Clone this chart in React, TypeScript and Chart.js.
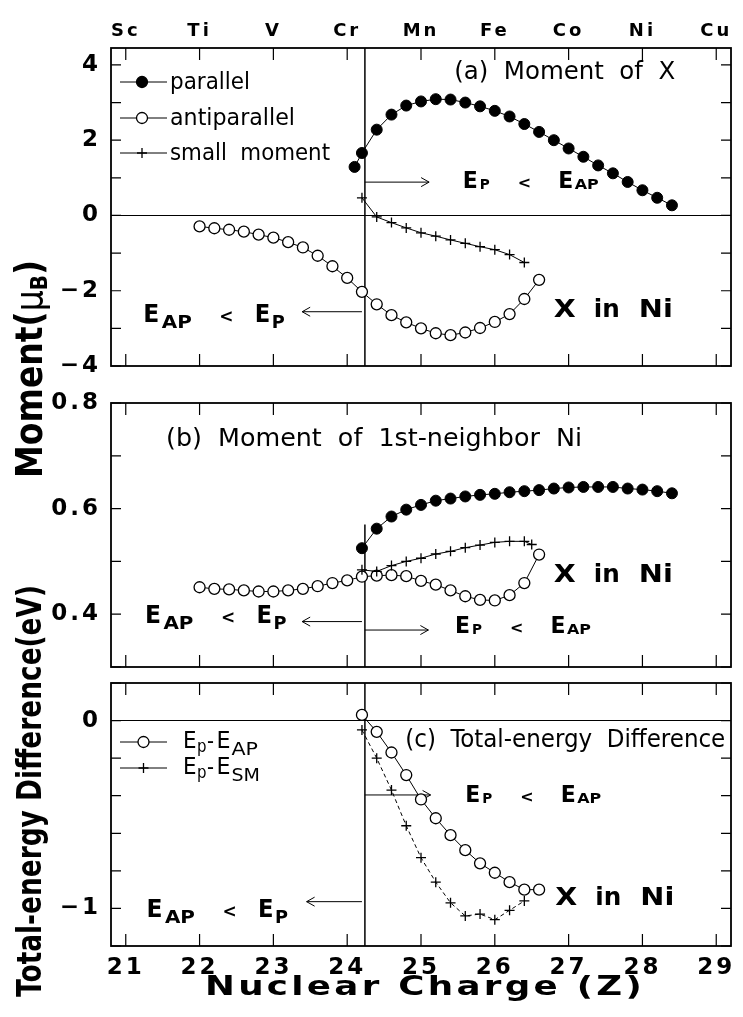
import { useEffect, useRef } from "react";
import { Chart, registerables } from "chart.js";

Chart.register(...registerables);

const PAGE_W = 743;
const PAGE_H = 1017;

// ---------------- data ----------------
const Z_MIN = 20.8;
const Z_MAX = 29.2;
const X_TICKS = [21, 22, 23, 24, 25, 26, 27, 28, 29];
const ELEMENTS = ["Sc", "Ti", "V", "Cr", "Mn", "Fe", "Co", "Ni", "Cu"];
const BOUNDARY_Z = 24.24;

// (a) Moment of X
const Z_A_PARALLEL = [24.1, 24.2, 24.4, 24.6, 24.8, 25.0, 25.2, 25.4, 25.6, 25.8, 26.0, 26.2, 26.4, 26.6, 26.8, 27.0, 27.2, 27.4, 27.6, 27.8, 28.0, 28.2, 28.4];
const A_PARALLEL = [1.29, 1.66, 2.28, 2.68, 2.92, 3.03, 3.09, 3.08, 3.0, 2.9, 2.78, 2.63, 2.43, 2.22, 2.0, 1.78, 1.56, 1.33, 1.12, 0.89, 0.67, 0.47, 0.27];
const Z_ANTIPARALLEL = [22.0, 22.2, 22.4, 22.6, 22.8, 23.0, 23.2, 23.4, 23.6, 23.8, 24.0, 24.2, 24.4, 24.6, 24.8, 25.0, 25.2, 25.4, 25.6, 25.8, 26.0, 26.2, 26.4, 26.6];
const A_ANTIPARALLEL = [-0.29, -0.34, -0.38, -0.43, -0.51, -0.59, -0.71, -0.85, -1.07, -1.35, -1.66, -2.03, -2.36, -2.65, -2.84, -3.0, -3.13, -3.18, -3.11, -2.99, -2.83, -2.62, -2.22, -1.71];
const Z_SMALL = [24.2, 24.4, 24.6, 24.8, 25.0, 25.2, 25.4, 25.6, 25.8, 26.0, 26.2, 26.4];
const A_SMALL = [0.47, -0.04, -0.19, -0.33, -0.46, -0.55, -0.65, -0.74, -0.83, -0.91, -1.04, -1.25];

// (b) Moment of 1st-neighbor Ni
const Z_B_PARALLEL = [24.2, 24.4, 24.6, 24.8, 25.0, 25.2, 25.4, 25.6, 25.8, 26.0, 26.2, 26.4, 26.6, 26.8, 27.0, 27.2, 27.4, 27.6, 27.8, 28.0, 28.2, 28.4];
const B_PARALLEL = [0.525, 0.562, 0.585, 0.598, 0.607, 0.615, 0.619, 0.623, 0.626, 0.628, 0.631, 0.633, 0.635, 0.638, 0.64, 0.641, 0.641, 0.641, 0.638, 0.636, 0.633, 0.629];
const B_ANTIPARALLEL = [0.451, 0.448, 0.447, 0.445, 0.443, 0.443, 0.445, 0.448, 0.453, 0.459, 0.464, 0.471, 0.473, 0.474, 0.472, 0.463, 0.456, 0.445, 0.434, 0.427, 0.426, 0.436, 0.459, 0.513];
const Z_B_SMALL = [24.2, 24.4, 24.6, 24.8, 25.0, 25.2, 25.4, 25.6, 25.8, 26.0, 26.2, 26.4, 26.5];
const B_SMALL = [0.484, 0.481, 0.492, 0.5, 0.506, 0.514, 0.519, 0.526, 0.531, 0.536, 0.538, 0.538, 0.532];

// (c) Total-energy difference
const Z_C_AP = [24.2, 24.4, 24.6, 24.8, 25.0, 25.2, 25.4, 25.6, 25.8, 26.0, 26.2, 26.4, 26.6];
const C_EP_EAP = [0.03, -0.06, -0.17, -0.29, -0.42, -0.52, -0.61, -0.69, -0.76, -0.81, -0.86, -0.9, -0.9];
const Z_C_SM = [24.2, 24.4, 24.6, 24.8, 25.0, 25.2, 25.4, 25.6, 25.8, 26.0, 26.2, 26.4];
const C_EP_ESM = [-0.05, -0.2, -0.37, -0.56, -0.73, -0.86, -0.97, -1.04, -1.03, -1.06, -1.01, -0.96];

// y ticks
const A_Y_TICKS = [-4, -3, -2, -1, 0, 1, 2, 3, 4];
const A_Y_LABELS = [-4, -2, 0, 2, 4];
const B_Y_TICKS = [0.3, 0.4, 0.5, 0.6, 0.7, 0.8];
const B_Y_LABELS = [0.4, 0.6, 0.8];
const C_Y_TICKS = [-1.2, -1.0, -0.8, -0.6, -0.4, -0.2, 0, 0.2];
const C_Y_LABELS = [-1, 0];

// ---------------- styles ----------------
const FAMILY = '"DejaVu Sans", "Liberation Sans", sans-serif';
const NARROW_FAMILY = '"Liberation Sans Narrow", "DejaVu Sans Condensed", "Liberation Sans", sans-serif';
const BOLD = (s: number) => `bold ${s}px ${FAMILY}`;
const NARROW = (s: number) => `${s}px ${NARROW_FAMILY}`;

type Part = { t: string; font: string; dx: number; dy?: number; w?: number };

const LT_LEFT: Part[] = [
  { t: "E", font: BOLD(24), dx: 0, w: 16 },
  { t: "AP", font: BOLD(17), dx: 18.5, dy: 6, w: 30 },
  { t: "<", font: BOLD(17), dx: 76 },
  { t: "E", font: BOLD(24), dx: 111.5, w: 15.5 },
  { t: "P", font: BOLD(17), dx: 128.5, dy: 6, w: 13 },
];
const LT_RIGHT: Part[] = [
  { t: "E", font: BOLD(23), dx: 0, w: 15 },
  { t: "P", font: BOLD(14), dx: 17, dy: 1, w: 10 },
  { t: "<", font: BOLD(16), dx: 55 },
  { t: "E", font: BOLD(23), dx: 95.5, w: 15 },
  { t: "AP", font: BOLD(14), dx: 112, dy: 1, w: 24 },
];
const X_IN_NI: Part[] = [
  { t: "X", font: BOLD(25), dx: 0, w: 22 },
  { t: "in", font: BOLD(25), dx: 40, w: 26 },
  { t: "Ni", font: BOLD(25), dx: 85, w: 34 },
];
const LEG_EAP: Part[] = [
  { t: "E", font: NARROW(23), dx: 0, w: 13.5 },
  { t: "p", font: NARROW(17), dx: 14, dy: 4, w: 9.5 },
  { t: "-", font: NARROW(23), dx: 24, w: 7 },
  { t: "E", font: NARROW(23), dx: 33.5, w: 14 },
  { t: "AP", font: NARROW(17), dx: 48.5, dy: 7, w: 26.5 },
];
const LEG_ESM: Part[] = [
  { t: "E", font: NARROW(23), dx: 0, w: 13.5 },
  { t: "p", font: NARROW(17), dx: 14, dy: 4, w: 9.5 },
  { t: "-", font: NARROW(23), dx: 24, w: 7 },
  { t: "E", font: NARROW(23), dx: 33.5, w: 14 },
  { t: "SM", font: NARROW(17), dx: 48.5, dy: 7, w: 28.5 },
];

const pts = (zs: number[], vs: number[]) => zs.map((z, i) => ({ x: z, y: vs[i] }));

const filledSet = (data: any) => ({
  data, showLine: true, borderColor: "#000", borderWidth: 1, pointStyle: "circle",
  pointRadius: 5.5, pointBackgroundColor: "#000", pointBorderColor: "#000", pointBorderWidth: 1,
});
const openSet = (data: any) => ({
  data, showLine: true, borderColor: "#000", borderWidth: 1, pointStyle: "circle",
  pointRadius: 5.5, pointBackgroundColor: "#fff", pointBorderColor: "#000", pointBorderWidth: 1.3,
});
const crossSet = (data: any, dash: number[] = []) => ({
  data, showLine: true, borderColor: "#000", borderWidth: 1, borderDash: dash, pointStyle: "cross",
  pointRadius: 5, pointBackgroundColor: "#000", pointBorderColor: "#000", pointBorderWidth: 1.3,
});

type Ann = { kind: "title" | "ltLeft" | "ltRight" | "xin"; z: number; v: number; text?: string; width?: number };
type Arrow = { v: number; from: number; to: number };
type LegendRow = { marker: "filled" | "open" | "cross"; dy: number; text?: string; width?: number; parts?: Part[] };

type PanelSpec = {
  id: string;
  area: { left: number; top: number; right: number; bottom: number };
  yMin: number; yMax: number; yTicks: number[]; yLabels: number[];
  fmt: (v: number) => string;
  topLabels: boolean; bottomLabels: boolean; zero: boolean;
  vFrom: number; vTo: number;
  datasets: any[];
  arrows: Arrow[];
  anns: Ann[];
  legend: { textDx: number; markerDx: number; rows: LegendRow[] } | null;
  globals: boolean;
};

const fmtSigned = (v: number) => (v < 0 ? "\u2212" + Math.abs(v) : String(v));

const PANELS: PanelSpec[] = [
  {
    id: "a",
    area: { left: 111, top: 48, right: 731, bottom: 366 },
    yMin: -4, yMax: 4.45, yTicks: A_Y_TICKS, yLabels: A_Y_LABELS, fmt: fmtSigned,
    topLabels: true, bottomLabels: false, zero: true, vFrom: -4, vTo: 4.45,
    datasets: [
      filledSet(pts(Z_A_PARALLEL, A_PARALLEL)),
      openSet(pts(Z_ANTIPARALLEL, A_ANTIPARALLEL)),
      crossSet(pts(Z_SMALL, A_SMALL)),
    ],
    arrows: [
      { v: 0.886, from: BOUNDARY_Z, to: 25.11 },
      { v: -2.558, from: 24.2, to: 23.39 },
    ],
    anns: [
      { kind: "title", z: 25.45, v: 3.63, text: "(a)  Moment  of  X", width: 221 },
      { kind: "ltRight", z: 25.565, v: 0.722 },
      { kind: "ltLeft", z: 21.238, v: -2.823 },
      { kind: "xin", z: 26.8, v: -2.698 },
    ],
    legend: {
      textDx: 59, markerDx: 31,
      rows: [
        { marker: "filled", dy: 34, text: "parallel", width: 80 },
        { marker: "open", dy: 70, text: "antiparallel", width: 125 },
        { marker: "cross", dy: 105, text: "small  moment", width: 160 },
      ],
    },
    globals: false,
  },
  {
    id: "b",
    area: { left: 111, top: 403, right: 731, bottom: 667 },
    yMin: 0.3, yMax: 0.8, yTicks: B_Y_TICKS, yLabels: B_Y_LABELS, fmt: (v) => v.toFixed(1),
    topLabels: false, bottomLabels: false, zero: false, vFrom: 0.3, vTo: 0.57,
    datasets: [
      filledSet(pts(Z_B_PARALLEL, B_PARALLEL)),
      crossSet(pts(Z_B_SMALL, B_SMALL)),
      openSet(pts(Z_ANTIPARALLEL, B_ANTIPARALLEL)),
    ],
    arrows: [
      { v: 0.37, from: BOUNDARY_Z, to: 25.1 },
      { v: 0.386, from: 24.2, to: 23.39 },
    ],
    anns: [
      { kind: "title", z: 21.545, v: 0.7186, text: "(b)  Moment  of  1st-neighbor  Ni", width: 416 },
      { kind: "ltRight", z: 25.46, v: 0.3636 },
      { kind: "ltLeft", z: 21.26, v: 0.3833 },
      { kind: "xin", z: 26.8, v: 0.461 },
    ],
    legend: null,
    globals: false,
  },
  {
    id: "c",
    area: { left: 111, top: 683, right: 731, bottom: 946 },
    yMin: -1.2, yMax: 0.2, yTicks: C_Y_TICKS, yLabels: C_Y_LABELS, fmt: fmtSigned,
    topLabels: false, bottomLabels: true, zero: true, vFrom: -1.2, vTo: 0.2,
    datasets: [
      openSet(pts(Z_C_AP, C_EP_EAP)),
      crossSet(pts(Z_C_SM, C_EP_ESM), [4, 3]),
    ],
    arrows: [
      { v: -0.396, from: BOUNDARY_Z, to: 25.13 },
      { v: -0.964, from: 24.2, to: 23.45 },
    ],
    anns: [
      { kind: "title", z: 24.787, v: -0.142, text: "(c)  Total-energy  Difference", width: 320 },
      { kind: "ltRight", z: 25.6, v: -0.432 },
      { kind: "ltLeft", z: 21.28, v: -1.044 },
      { kind: "xin", z: 26.82, v: -0.982 },
    ],
    legend: {
      textDx: 72, markerDx: 32.5,
      rows: [
        { marker: "open", dy: 59, parts: LEG_EAP },
        { marker: "cross", dy: 85, parts: LEG_ESM },
      ],
    },
    globals: true,
  },
];

// ---------------- drawing helpers ----------------
function setSpacing(ctx: any, px: number) {
  if ("letterSpacing" in ctx) ctx.letterSpacing = px + "px";
}

function fitText(ctx: CanvasRenderingContext2D, text: string, x: number, y: number, width: number, font: string, spacing = 0) {
  ctx.save();
  ctx.font = font;
  setSpacing(ctx, spacing);
  ctx.textAlign = "left";
  ctx.textBaseline = "alphabetic";
  const w = ctx.measureText(text).width;
  ctx.translate(x, y);
  ctx.scale(width / w, 1);
  ctx.fillText(text, 0, 0);
  ctx.restore();
}

function drawParts(ctx: CanvasRenderingContext2D, x: number, y: number, parts: Part[]) {
  for (const p of parts) {
    ctx.save();
    ctx.font = p.font;
    setSpacing(ctx, 0);
    ctx.textAlign = "left";
    ctx.textBaseline = "alphabetic";
    const w = ctx.measureText(p.t).width;
    ctx.translate(x + p.dx, y + (p.dy || 0));
    if (p.w) ctx.scale(p.w / w, 1);
    ctx.fillText(p.t, 0, 0);
    ctx.restore();
  }
}

function drawArrow(ctx: CanvasRenderingContext2D, x1: number, x2: number, y: number) {
  const dir = x2 > x1 ? 1 : -1;
  ctx.beginPath();
  ctx.moveTo(x1, y);
  ctx.lineTo(x2, y);
  ctx.moveTo(x2 - dir * 8, y - 4.5);
  ctx.lineTo(x2, y);
  ctx.lineTo(x2 - dir * 8, y + 4.5);
  ctx.stroke();
}

function drawMarker(ctx: CanvasRenderingContext2D, kind: string, x: number, y: number) {
  ctx.save();
  ctx.strokeStyle = "#000";
  ctx.lineWidth = 1.3;
  if (kind === "cross") {
    ctx.beginPath();
    ctx.moveTo(x - 5, y); ctx.lineTo(x + 5, y);
    ctx.moveTo(x, y - 5); ctx.lineTo(x, y + 5);
    ctx.stroke();
  } else {
    ctx.beginPath();
    ctx.arc(x, y, 5.5, 0, Math.PI * 2);
    ctx.fillStyle = kind === "filled" ? "#000" : "#fff";
    ctx.fill();
    ctx.stroke();
  }
  ctx.restore();
}

function rotatedTitle(ctx: CanvasRenderingContext2D, baseX: number, centerY: number, parts: { t: string; font: string; dy?: number }[], len: number, sy: number) {
  ctx.save();
  setSpacing(ctx, 0);
  ctx.textAlign = "left";
  ctx.textBaseline = "alphabetic";
  let total = 0;
  const ws = parts.map((p) => {
    ctx.font = p.font;
    const w = ctx.measureText(p.t).width;
    total += w;
    return w;
  });
  ctx.translate(baseX, centerY);
  ctx.rotate(-Math.PI / 2);
  ctx.scale(len / total, sy);
  let x = -total / 2;
  parts.forEach((p, i) => {
    ctx.font = p.font;
    ctx.fillText(p.t, x, p.dy || 0);
    x += ws[i];
  });
  ctx.restore();
}

function panelPlugin(p: PanelSpec) {
  return {
    id: "panel_" + p.id,
    beforeDraw(chart: any) {
      setSpacing(chart.ctx, 3);
    },
    beforeDatasetsDraw(chart: any) {
      const ctx: CanvasRenderingContext2D = chart.ctx;
      setSpacing(ctx, 0);
      const { left, right } = chart.chartArea;
      const xs = chart.scales.x;
      const ys = chart.scales.y;
      ctx.save();
      ctx.strokeStyle = "#000";
      if (p.zero) {
        ctx.lineWidth = 1.1;
        const y0 = ys.getPixelForValue(0);
        ctx.beginPath();
        ctx.moveTo(left, y0);
        ctx.lineTo(right, y0);
        ctx.stroke();
      }
      ctx.lineWidth = 1.5;
      const vx = xs.getPixelForValue(BOUNDARY_Z);
      ctx.beginPath();
      ctx.moveTo(vx, ys.getPixelForValue(p.vFrom));
      ctx.lineTo(vx, ys.getPixelForValue(p.vTo));
      ctx.stroke();
      ctx.lineWidth = 1;
      for (const a of p.arrows) {
        drawArrow(ctx, xs.getPixelForValue(a.from), xs.getPixelForValue(a.to), ys.getPixelForValue(a.v));
      }
      ctx.restore();
    },
    afterDatasetsDraw(chart: any) {
      const ctx: CanvasRenderingContext2D = chart.ctx;
      const { left, right, top, bottom } = chart.chartArea;
      const xs = chart.scales.x;
      const ys = chart.scales.y;
      ctx.save();
      ctx.strokeStyle = "#000";
      ctx.lineWidth = 1.2;
      ctx.beginPath();
      for (const v of X_TICKS) {
        const px = xs.getPixelForValue(v);
        ctx.moveTo(px, bottom); ctx.lineTo(px, bottom - 12);
        ctx.moveTo(px, top); ctx.lineTo(px, top + 12);
      }
      for (const v of p.yTicks) {
        const py = ys.getPixelForValue(v);
        ctx.moveTo(left, py); ctx.lineTo(left + 10, py);
        ctx.moveTo(right, py); ctx.lineTo(right - 10, py);
      }
      ctx.stroke();
      ctx.lineWidth = 1.8;
      ctx.strokeRect(left, top, right - left, bottom - top);
      ctx.restore();
    },
    afterDraw(chart: any) {
      const ctx: CanvasRenderingContext2D = chart.ctx;
      const { left, top } = chart.chartArea;
      const xs = chart.scales.x;
      const ys = chart.scales.y;
      ctx.save();
      ctx.fillStyle = "#000";
      ctx.strokeStyle = "#000";
      for (const a of p.anns) {
        const x = xs.getPixelForValue(a.z);
        const y = ys.getPixelForValue(a.v);
        if (a.kind === "title") fitText(ctx, a.text || "", x, y, a.width || 100, NARROW(24));
        else if (a.kind === "ltLeft") drawParts(ctx, x, y, LT_LEFT);
        else if (a.kind === "ltRight") drawParts(ctx, x, y, LT_RIGHT);
        else drawParts(ctx, x, y, X_IN_NI);
      }
      if (p.legend) {
        for (const r of p.legend.rows) {
          const y = top + r.dy;
          ctx.lineWidth = 1;
          ctx.beginPath();
          ctx.moveTo(left + 9, y);
          ctx.lineTo(left + 56, y);
          ctx.stroke();
          drawMarker(ctx, r.marker, left + p.legend.markerDx, y);
          if (r.text) fitText(ctx, r.text, left + p.legend.textDx, y + 7, r.width || 80, NARROW(23));
          if (r.parts) drawParts(ctx, left + p.legend.textDx, y + 6, r.parts);
        }
      }
      if (p.globals) {
        rotatedTitle(ctx, 42, 369, [
          { t: "Moment(", font: BOLD(28) },
          { t: "\u03bc", font: `28px ${FAMILY}` },
          { t: "B", font: BOLD(17), dy: 4 },
          { t: ")", font: BOLD(28) },
        ], 218, 1.3);
        rotatedTitle(ctx, 41, 791, [{ t: "Total-energy Difference(eV)", font: BOLD(28) }], 412, 1.22);
        fitText(ctx, "Nuclear Charge (Z)", 205, 995, 440, BOLD(27), 2.5);
      }
      ctx.restore();
    },
  };
}

function buildConfig(p: PanelSpec): any {
  const a = p.area;
  const Y_AXIS_W = 80;
  const TOP_AXIS_H = 40;
  const BOTTOM_AXIS_H = 45;
  const padding = {
    left: a.left - Y_AXIS_W,
    right: PAGE_W - a.right,
    top: p.topLabels ? a.top - TOP_AXIS_H : a.top,
    bottom: p.bottomLabels ? PAGE_H - a.bottom - BOTTOM_AXIS_H : PAGE_H - a.bottom,
  };
  const tickFont = { family: FAMILY, weight: "bold", size: 23 };
  const noGrid = { display: false, drawTicks: false };
  const scales: any = {
    x: {
      type: "linear", position: "bottom", min: Z_MIN, max: Z_MAX,
      display: p.bottomLabels,
      grid: noGrid, border: { display: false },
      afterBuildTicks: (s: any) => { s.ticks = X_TICKS.map((v) => ({ value: v })); },
      ticks: {
        color: "#000", font: tickFont, padding: 8, autoSkip: false, maxRotation: 0, minRotation: 0,
        callback: (v: any) => String(v),
      },
      afterFit: p.bottomLabels ? (s: any) => { s.height = BOTTOM_AXIS_H; } : undefined,
    },
    y: {
      type: "linear", position: "left", min: p.yMin, max: p.yMax,
      grid: noGrid, border: { display: false },
      afterBuildTicks: (s: any) => { s.ticks = p.yLabels.map((v) => ({ value: v })); },
      ticks: { color: "#000", font: tickFont, padding: 10, callback: (v: any) => p.fmt(Number(v)) },
      afterFit: (s: any) => { s.width = Y_AXIS_W; },
    },
  };
  if (p.topLabels) {
    scales.xt = {
      type: "linear", position: "top", axis: "x", min: Z_MIN, max: Z_MAX,
      grid: noGrid, border: { display: false },
      afterBuildTicks: (s: any) => { s.ticks = X_TICKS.map((v) => ({ value: v })); },
      ticks: {
        color: "#000", font: { family: FAMILY, weight: "bold", size: 18 }, padding: 6,
        autoSkip: false, maxRotation: 0, minRotation: 0,
        callback: (v: any) => ELEMENTS[X_TICKS.indexOf(Number(v))] || "",
      },
      afterFit: (s: any) => { s.height = TOP_AXIS_H; },
    };
  }
  return {
    type: "scatter",
    data: { datasets: p.datasets },
    options: {
      responsive: false,
      animation: false,
      devicePixelRatio: 1,
      events: [],
      layout: { padding },
      plugins: { legend: { display: false }, tooltip: { enabled: false }, title: { display: false } },
      scales,
    },
    plugins: [panelPlugin(p)],
  };
}

export default function App() {
  const r0 = useRef<HTMLCanvasElement>(null);
  const r1 = useRef<HTMLCanvasElement>(null);
  const r2 = useRef<HTMLCanvasElement>(null);
  const refs = [r0, r1, r2];

  useEffect(() => {
    const charts = PANELS.map((p, i) => new Chart(refs[i].current as HTMLCanvasElement, buildConfig(p)));
    return () => charts.forEach((c) => c.destroy());
  }, []);

  return (
    <div style={{ position: "absolute", left: 0, top: 0, width: PAGE_W, height: PAGE_H, background: "#fff", overflow: "hidden" }}>
      {PANELS.map((p, i) => (
        <canvas
          key={p.id}
          ref={refs[i]}
          width={PAGE_W}
          height={PAGE_H}
          style={{ position: "absolute", left: 0, top: 0, width: PAGE_W, height: PAGE_H }}
        />
      ))}
    </div>
  );
}
